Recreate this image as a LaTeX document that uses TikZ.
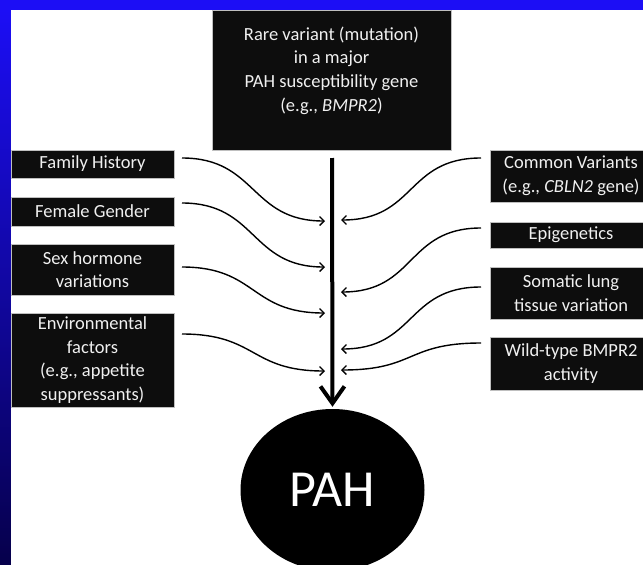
\documentclass[tikz,border=0pt]{standalone}
\usepackage{fontspec}
\setmainfont{Carlito}
\usetikzlibrary{arrows.meta,shapes.geometric}
\definecolor{bgblue}{RGB}{28,14,245}
\definecolor{midblue}{RGB}{30,14,190}
\definecolor{navy}{RGB}{6,0,75}
\definecolor{boxblack}{RGB}{13,13,13}
\definecolor{txtwhite}{RGB}{240,240,240}
\begin{document}
\begin{tikzpicture}[x=1pt,y=-1pt,
  box/.style={fill=boxblack, draw=gray!50, line width=0.4pt, inner sep=0pt},
  txt/.style={text=txtwhite, align=center, inner sep=0pt, font=\fontsize{18.5}{23.7}\selectfont},
  flow/.style={line width=1.4pt, -{Straight Barb[length=4.5pt,width=9pt]}},
  mainflow/.style={line width=4pt, -{Straight Barb[length=17pt,width=24pt]}, shorten >=2pt},
]
\useasboundingbox (0,0) rectangle (643,565);
\fill[bgblue] (0,0) rectangle (643,565);
\shade[top color=bgblue, middle color=midblue, bottom color=navy] (0,10) rectangle (11,565);
\fill[white] (11,10) rectangle (643,565);

% top box
\node[box, minimum width=239pt, minimum height=140pt] (rare) at (331.5,80) {};
\node[txt] (raretxt) at (331.5,70.5) {Rare variant (mutation)\\in a major\\PAH susceptibility gene\\(e.g., \textit{BMPR2})};

% left boxes
\node[box, txt, minimum width=163pt, minimum height=28pt] (fam) at (92.5,164) {Family History};
\node[box, txt, minimum width=163pt, minimum height=29pt] (fem) at (92.5,211.5) {Female Gender};
\node[box, txt, minimum width=163pt, minimum height=51pt] (sex) at (92.5,269.5) {Sex hormone\\variations};
\node[box, txt, minimum width=163pt, minimum height=94pt] (env) at (92.5,360) {Environmental\\factors\\(e.g., appetite\\suppressants)};

% right boxes
\node[box, txt, minimum width=162pt, minimum height=52pt] (com) at (571,176) {Common Variants\\(e.g., \textit{CBLN2} gene)};
\node[box, txt, minimum width=162pt, minimum height=26pt] (epi) at (571,235) {Epigenetics};
\node[box, txt, minimum width=162pt, minimum height=52pt] (som) at (571,293) {Somatic lung\\tissue variation};
\node[box, txt, minimum width=162pt, minimum height=53pt] (wild) at (571,363.5) {Wild-type BMPR2\\activity};

% outcome
\node[ellipse, fill=black, minimum width=184pt, minimum height=162pt, inner sep=0pt,
      text=white, font=\fontsize{52}{60}\selectfont] (pah) at (332.5,490) {PAH};

% main arrow
\coordinate (mainstart) at (332,158);
\draw[mainflow] (mainstart) -- (pah.north);

% left connector ends
\coordinate (famS) at (182,158);  \coordinate (famT) at (325,221);
\coordinate (femS) at (182,203);  \coordinate (femT) at (325,267);
\coordinate (sexS) at (182,267);  \coordinate (sexT) at (325,313);
\coordinate (envS) at (182,334);  \coordinate (envT) at (325,371);
% right connector ends
\coordinate (comS) at (481,158);  \coordinate (comT) at (341,220);
\coordinate (epiS) at (481,228);  \coordinate (epiT) at (341,292);
\coordinate (somS) at (481,287);  \coordinate (somT) at (341,349);
\coordinate (wildS) at (481,343); \coordinate (wildT) at (341,370);

\draw[flow] (famS) .. controls +(75,0) and +(-75,0) .. (famT);
\draw[flow] (femS) .. controls +(75,0) and +(-75,0) .. (femT);
\draw[flow] (sexS) .. controls +(75,0) and +(-75,0) .. (sexT);
\draw[flow] (envS) .. controls +(75,0) and +(-75,0) .. (envT);

\draw[flow] (comS) .. controls +(-75,0) and +(75,0) .. (comT);
\draw[flow] (epiS) .. controls +(-75,0) and +(75,0) .. (epiT);
\draw[flow] (somS) .. controls +(-75,0) and +(75,0) .. (somT);
\draw[flow] (wildS) .. controls +(-75,0) and +(75,0) .. (wildT);
\end{tikzpicture}
\end{document}
